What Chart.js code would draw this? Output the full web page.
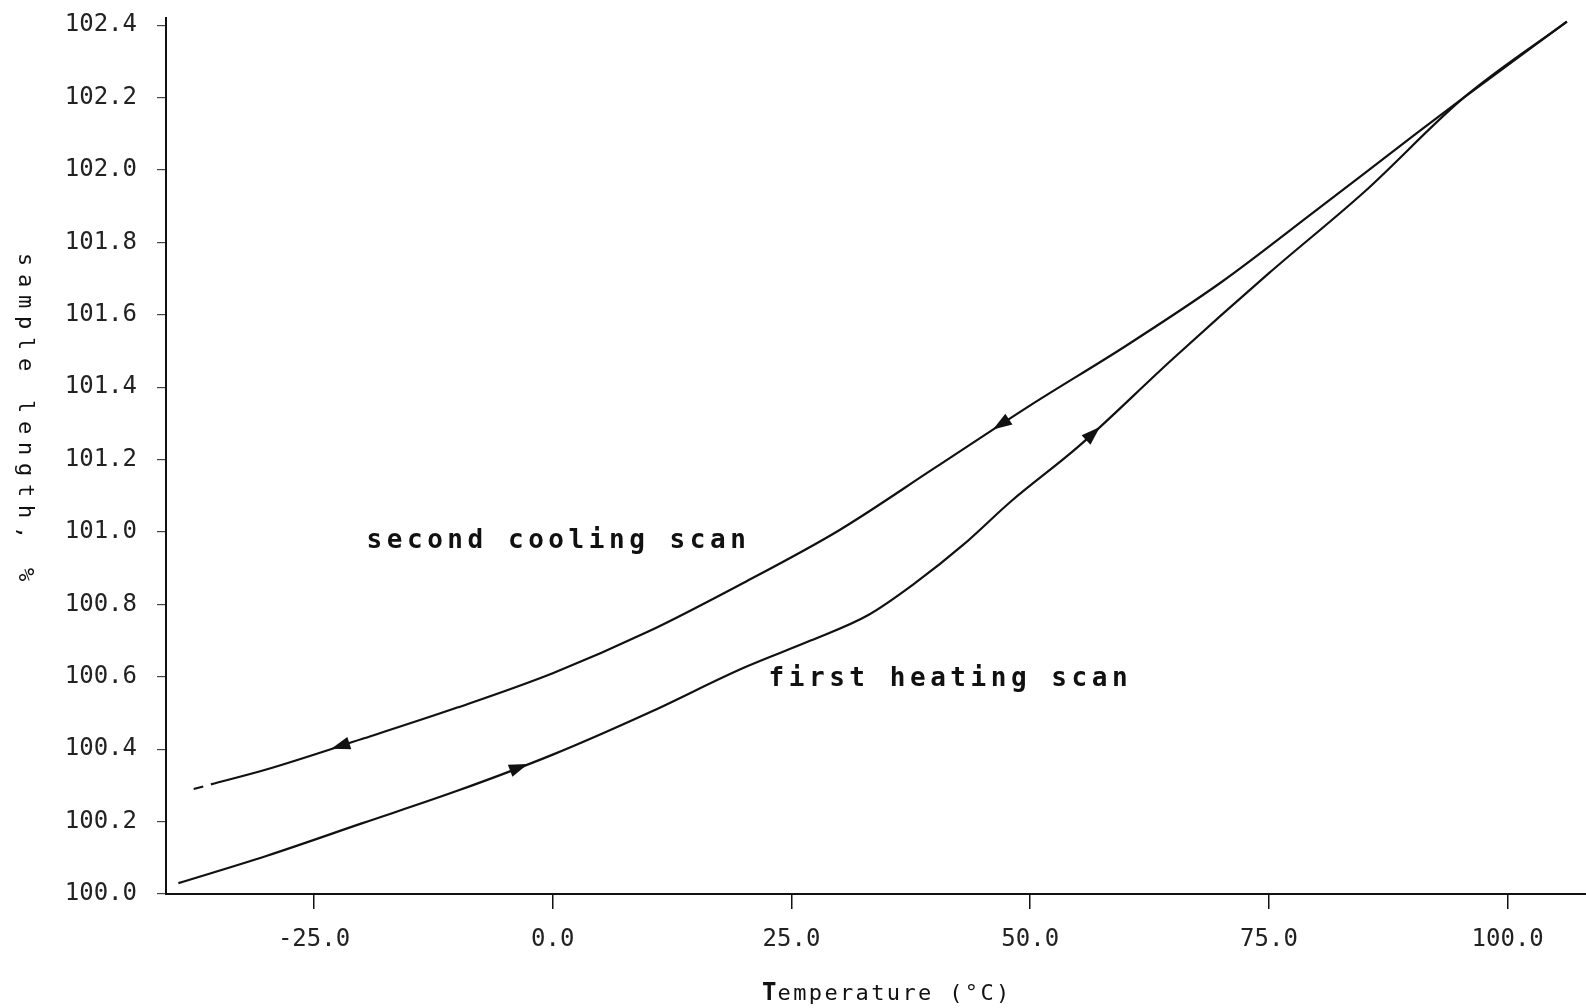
<!DOCTYPE html>
<html>
<head>
<meta charset="utf-8">
<script src="https://cdn.jsdelivr.net/npm/chart.js@4.4.1/dist/chart.umd.min.js"></script>
<style>
  html, body { margin: 0; padding: 0; background: #fff; }
  #wrap { width: 1586px; height: 1008px; position: relative; }
</style>
</head>
<body>
<div id="wrap"><canvas id="chart"></canvas></div>
<script>
// temperature (°C) and sample length (%)
const heatT = [-39.2, -30, -20, -10, 0, 10, 20, 27, 33, 38, 43, 48, 55, 65, 75, 85, 95.4, 106.2];
const heatV = [100.03, 100.105, 100.195, 100.285, 100.385, 100.50, 100.625, 100.70, 100.77, 100.86, 100.965,
  101.085, 101.235, 101.48, 101.715, 101.94, 102.20, 102.41];

// null leaves the small break near the start of the cooling trace
const coolT = [-37.6, -36.6, -36.2, -35.8, -30, -20, -10, 0, 10, 20, 30, 40, 50, 60, 70, 80, 90, 95.4, 106.2];
const coolV = [100.29, 100.297, null, 100.303, 100.344, 100.428, 100.515, 100.61, 100.725, 100.86, 101.005,
  101.177, 101.35, 101.514, 101.69, 101.89, 102.092, 102.20, 102.41];

// direction arrows on the curves
const heatArrowT = [-2.6, 57.3];
const heatArrowV = [100.359, 101.29];
const coolArrowT = [-23.2, 46.1];
const coolArrowV = [100.401, 101.283];

const xTicks = [-25, 0, 25, 50, 75, 100];
const yTicks = [100.0, 100.2, 100.4, 100.6, 100.8, 101.0, 101.2, 101.4, 101.6, 101.8, 102.0, 102.2, 102.4];

const labelText = ["second cooling scan", "first heating scan"];
const labelT = [-19.5, 22.6];
const labelV = [100.955, 100.574];

const MONO = '"DejaVu Sans Mono", "Liberation Mono", monospace';
const INK = "#111";

function toPoints(xs, ys) {
  return xs.map((x, i) => ({ x: x, y: ys[i] }));
}

function spaced(ctx, str, x, y, adv) {
  for (let i = 0; i < str.length; i++) {
    ctx.fillText(str[i], x + i * adv, y);
  }
}

// arrowhead at (t, v), pointing along the curve; dir 1 = warming, -1 = cooling
function drawArrows(chart, ts, vs, curveT, curveV, dir) {
  const ctx = chart.ctx;
  const xs = chart.scales.x, ys = chart.scales.y;
  for (let k = 0; k < ts.length; k++) {
    let i = 0;
    while (i < curveT.length - 2 && (curveT[i + 1] < ts[k] || curveV[i] === null || curveV[i + 1] === null)) i++;
    const ax = xs.getPixelForValue(curveT[i]), ay = ys.getPixelForValue(curveV[i]);
    const bx0 = xs.getPixelForValue(curveT[i + 1]), by0 = ys.getPixelForValue(curveV[i + 1]);
    const dx = (bx0 - ax) * dir, dy = (by0 - ay) * dir;
    const len = Math.hypot(dx, dy);
    const ux = dx / len, uy = dy / len;
    const px = xs.getPixelForValue(ts[k]), py = ys.getPixelForValue(vs[k]);
    const L = 19, W = 6.5;
    const bx = px - ux * L, by = py - uy * L;
    ctx.beginPath();
    ctx.moveTo(px, py);
    ctx.lineTo(bx - uy * W, by + ux * W);
    ctx.lineTo(bx + uy * W, by - ux * W);
    ctx.closePath();
    ctx.fill();
  }
}

const overlay = {
  id: "overlay",
  afterDraw(chart) {
    const ctx = chart.ctx;
    const xs = chart.scales.x, ys = chart.scales.y;
    ctx.save();
    ctx.fillStyle = INK;

    drawArrows(chart, heatArrowT, heatArrowV, heatT, heatV, 1);
    drawArrows(chart, coolArrowT, coolArrowV, coolT, coolV, -1);

    // curve labels
    ctx.font = "bold 26px " + MONO;
    ctx.textBaseline = "alphabetic";
    ctx.textAlign = "left";
    for (let i = 0; i < labelText.length; i++) {
      spaced(ctx, labelText[i], xs.getPixelForValue(labelT[i]), ys.getPixelForValue(labelV[i]), 20.2);
    }

    // x title, bold first letter
    const xt = "Temperature (\u00B0C)";
    const adv = 15.6;
    const x0 = 762;
    ctx.font = "bold 24px " + MONO;
    ctx.fillText(xt[0], x0, 1000);
    ctx.font = "22px " + MONO;
    spaced(ctx, xt.slice(1), x0 + adv, 1000, adv);

    // y title, reading top to bottom
    ctx.translate(19, 253);
    ctx.rotate(Math.PI / 2);
    ctx.font = "22px " + MONO;
    spaced(ctx, "sample length, %", 0, 0, 21);
    ctx.restore();
  }
};

new Chart(document.getElementById("chart"), {
  type: "line",
  data: {
    datasets: [
      {
        label: "first heating scan",
        data: toPoints(heatT, heatV),
        borderColor: INK,
        borderWidth: 2.2,
        pointRadius: 0,
        cubicInterpolationMode: "monotone",
        fill: false
      },
      {
        label: "second cooling scan",
        data: toPoints(coolT, coolV),
        borderColor: INK,
        borderWidth: 2.2,
        pointRadius: 0,
        cubicInterpolationMode: "monotone",
        spanGaps: false,
        fill: false
      }
    ]
  },
  options: {
    responsive: true,
    maintainAspectRatio: false,
    animation: false,
    layout: { padding: { top: 18, right: 0, left: 0, bottom: 0 } },
    plugins: {
      legend: { display: false },
      tooltip: { enabled: false }
    },
    scales: {
      x: {
        type: "linear",
        min: -40.5,
        max: 108.2,
        afterBuildTicks: (scale) => { scale.ticks = xTicks.map((v) => ({ value: v })); },
        afterFit: (scale) => { scale.height = 114; scale.paddingLeft = 0; scale.paddingRight = 0; },
        ticks: {
          callback: (v) => Number(v).toFixed(1),
          font: { family: MONO, size: 24 },
          color: "#222",
          padding: 16,
          maxRotation: 0
        },
        grid: { drawOnChartArea: false, drawTicks: true, tickLength: 15, color: INK, lineWidth: 1.5 },
        border: { display: true, color: INK, width: 2 }
      },
      y: {
        min: 100,
        max: 102.42,
        afterBuildTicks: (scale) => { scale.ticks = yTicks.map((v) => ({ value: v })); },
        afterFit: (scale) => { scale.width = 166; scale.paddingTop = 0; scale.paddingBottom = 0; },
        ticks: {
          callback: (v) => Number(v).toFixed(1),
          font: { family: MONO, size: 24 },
          color: "#222",
          padding: 20
        },
        grid: { drawOnChartArea: false, drawTicks: true, tickLength: 9, color: "#444", lineWidth: 1.2 },
        border: { display: true, color: INK, width: 2 }
      }
    }
  },
  plugins: [overlay]
});
</script>
</body>
</html>
